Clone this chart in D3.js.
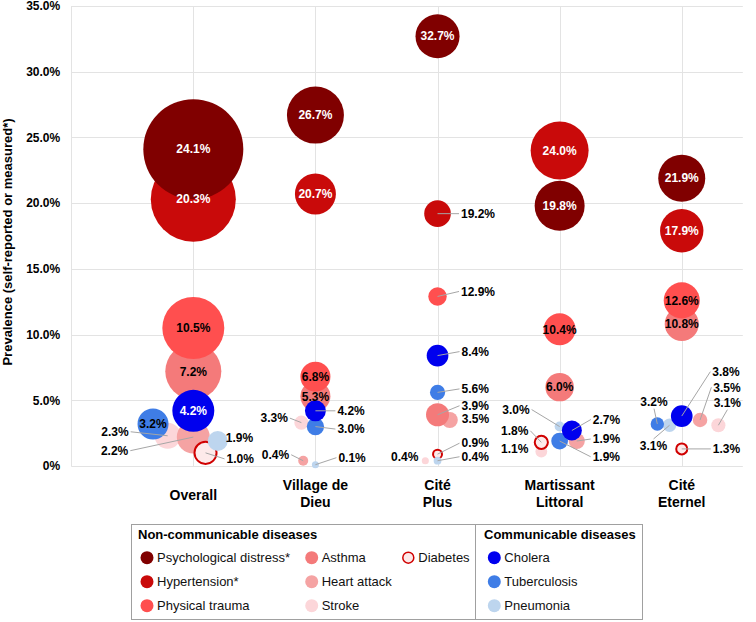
<!DOCTYPE html>
<html><head><meta charset="utf-8">
<script src="https://cdn.jsdelivr.net/npm/d3@7"></script>
<style>
body{margin:0;background:#fff}
text{font-family:"Liberation Sans",Arial,Helvetica,sans-serif}
</style>
</head><body>
<svg id="chart" width="756" height="622"></svg>
<script>
// ---------- DATA ----------
const categories = ["Overall", "Village de Dieu", "Cité Plus", "Martissant Littoral", "Cité Eternel"];
const yTicks = [0, 5, 10, 15, 20, 25, 30, 35];

// prevalence (%) per category
const psychological = [24.1, 26.7, 32.7, 19.8, 21.9];
const hypertension  = [20.3, 20.7, 19.2, 24.0, 17.9];
const trauma        = [10.5, 6.8, 12.9, 10.4, 12.6];
const asthma        = [7.2, 5.3, 3.9, 6.0, 10.8];
const heartAttack   = [2.2, 0.4, 3.5, 1.9, 3.5];
const stroke        = [2.3, 3.3, 0.4, 1.1, 3.1];
const diabetes      = [1.0, null, 0.9, 1.8, 1.3];
const cholera       = [4.2, 4.2, 8.4, 2.7, 3.8];
const tuberculosis  = [3.2, 3.0, 5.6, 1.9, 3.2];
const pneumonia     = [1.9, 0.1, 0.4, 3.0, 3.1];

// x values of bubbles (category index, with small offsets as in the source)
const xCentre       = [1, 2, 3, 4, 5];
const xHeart        = [1, 1.9, 3.1, 4.14, 5.15];
const xStroke       = [0.79, 1.885, 2.9, 3.85, 5.3];
const xDiabetes     = [1.1, 2, 3, 3.85, 5];
const xCholera      = [1, 2, 3, 4.1, 5];
const xTuberculosis = [0.67, 2, 3, 4, 4.8];
const xPneumonia    = [1.2, 2, 3, 4, 4.9];

// bubble sizes (relative)
const sizePsych     = [100, 32.5, 19.4, 25, 22.1];
const sizeHyper     = [72.3, 16.8, 7.1, 33.6, 18.8];
const sizeTrauma    = [38.4, 9, 3.4, 10.2, 13];
const sizeAsthma    = [31.4, 9, 5.3, 8.1, 11.6];
const sizeHeart     = [10.9, 1, 2.6, 2.6, 2.1];
const sizeStroke    = [6.8, 2, 0.5, 1.4, 2];
const sizeDiabetes  = [5.8, 0, 1.2, 2.3, 1.7];
const sizeCholera   = [17.6, 4.4, 4.7, 4, 4.7];
const sizeTb        = [9.6, 3, 2.3, 2.8, 1.8];
const sizePneumonia = [4, 0.5, 0.6, 1, 1.8];

// ---------- SERIES TABLE ----------
const series = [
  {key:"stroke", name:"Stroke", v:stroke, x:xStroke, s:sizeStroke, fill:"#fcd6d9", txt:"#000"},
  {key:"heart", name:"Heart attack", v:heartAttack, x:xHeart, s:sizeHeart, fill:"#f5a3a3", txt:"#000"},
  {key:"asthma", name:"Asthma", v:asthma, x:xCentre, s:sizeAsthma, fill:"#f47a7a", txt:"#000"},
  {key:"trauma", name:"Physical trauma", v:trauma, x:xCentre, s:sizeTrauma, fill:"#ff4f4f", txt:"#000"},
  {key:"hyp", name:"Hypertension*", v:hypertension, x:xCentre, s:sizeHyper, fill:"#c90a0a", txt:"#fff"},
  {key:"psych", name:"Psychological distress*", v:psychological, x:xCentre, s:sizePsych, fill:"#800000", txt:"#fff"},
  {key:"diabetes", name:"Diabetes", v:diabetes, x:xDiabetes, s:sizeDiabetes, fill:"#fdeaea", stroke:"#d00000", txt:"#000"},
  {key:"pneu", name:"Pneumonia", v:pneumonia, x:xPneumonia, s:sizePneumonia, fill:"#bdd5ee", txt:"#000"},
  {key:"tb", name:"Tuberculosis", v:tuberculosis, x:xTuberculosis, s:sizeTb, fill:"#3f7de6", txt:"#000"},
  {key:"cholera", name:"Cholera", v:cholera, x:xCholera, s:sizeCholera, fill:"#0000ee", txt:"#fff"}
];

// ---------- LABEL LAYOUT (pixel offsets from bubble centre; absent = inside) ----------
const labelLayout = {
  "stroke:0":[-39,-4,"end"], "heart:0":[-65,13.6,"end"], "pneu:0":[8,-3,"start",true], "diabetes:0":[21,6,"start"],
  "cholera:1":[22,0,"start"], "tb:1":[22,2.5,"start"], "stroke:1":[-13.5,-4.5,"end"], "heart:1":[-14,-6,"end"], "pneu:1":[23,-7,"start"],
  "hyp:2":[23.5,0,"start"], "trauma:2":[23.5,-5,"start"], "cholera:2":[24,-4,"start"], "tb:2":[24,-3.5,"start"],
  "asthma:2":[24,-9,"start"], "heart:2":[12,-1,"start",true], "diabetes:2":[24,-11,"start"], "pneu:2":[24,-4,"start"], "stroke:2":[-7,-4,"end",true],
  "pneu:3":[-30,-17,"end"], "cholera:3":[21,-11,"start"], "heart:3":[16,-2,"start"], "tb:3":[33,15.7,"start"],
  "diabetes:3":[-13,-11.6,"end"], "stroke:3":[-13,-3,"end",true],
  "cholera:4":[30.6,-44.4,"start"], "heart:4":[13.3,-32.7,"start"], "stroke:4":[9,-22.6,"middle"],
  "tb:4":[-3.3,-22.3,"middle"], "pneu:4":[-16,20.7,"middle"], "diabetes:4":[31,0,"start"]
};

// ---------- SCALES ----------
const svg = d3.select("#chart");
const x = d3.scaleLinear().domain([0, 5.5]).range([71.2, 742.8]);
const y = d3.scaleLinear().domain([0, 35]).range([466, 6]);
const r = d3.scaleSqrt().domain([0, 100]).range([0, 50]);
const fmt = d => d === 0 ? "0%" : d.toFixed(1) + "%";

// grid
const grid = svg.append("g").attr("stroke", "#e3e3e3").attr("stroke-width", 1);
grid.selectAll("line.h").data(yTicks).join("line")
  .attr("x1", x(0)).attr("x2", x(5.5))
  .attr("y1", d => Math.round(y(d)) + 0.5).attr("y2", d => Math.round(y(d)) + 0.5);
grid.selectAll("line.v").data([0, 1, 2, 3, 4, 5]).join("line")
  .attr("y1", y(0)).attr("y2", y(35))
  .attr("x1", d => Math.round(x(d)) + 0.5).attr("x2", d => Math.round(x(d)) + 0.5);

// y axis labels
const yAxis = svg.append("g").attr("transform", `translate(${x(0)},0)`)
  .call(d3.axisLeft(y).tickValues(yTicks).tickFormat(fmt).tickSize(0).tickPadding(11));
yAxis.select(".domain").remove();
yAxis.selectAll("text").attr("font-size", 12).attr("font-weight", "bold").attr("fill", "#000")
  .attr("font-family", "'Liberation Sans',Arial,sans-serif");

svg.append("text").attr("transform", "translate(12,242) rotate(-90)")
  .attr("text-anchor", "middle").attr("font-size", 13).attr("font-weight", "bold")
  .text("Prevalence (self-reported or measured*)");

// category labels
categories.forEach((c, i) => {
  const k = c.lastIndexOf(" ");
  const lines = c.indexOf(" ") < 0 ? [c] : [c.slice(0, k), c.slice(k + 1)];
  const t = svg.append("text").attr("x", x(i + 1)).attr("text-anchor", "middle")
    .attr("font-size", 14).attr("font-weight", "bold");
  const y0 = lines.length === 1 ? 495 : 485.5;
  lines.forEach((ln, j) => t.append("tspan").attr("x", x(i + 1)).attr("y", y0 + j * 17).attr("dy", "0.35em").text(ln));
});

// bubbles (bottom layer), then leader lines and labels on top
const bubbleLayer = svg.append("g");
const leaderLayer = svg.append("g");
const labelLayer = svg.append("g");
series.forEach(se => {
  se.v.forEach((v, i) => {
    if (v == null) return;
    const cx = x(se.x[i]), cy = y(v), rad = r(se.s[i]);
    bubbleLayer.append("circle").attr("cx", cx).attr("cy", cy)
      .attr("r", se.stroke ? Math.max(rad - 1, 1) : rad)
      .attr("fill", se.fill)
      .attr("stroke", se.stroke || "none").attr("stroke-width", se.stroke ? 2 : 0);
    const lay = labelLayout[se.key + ":" + i];
    if (!lay) {
      labelLayer.append("text").attr("x", cx).attr("y", cy).attr("dy", "0.35em")
        .attr("text-anchor", "middle").attr("font-size", 12).attr("font-weight", "bold")
        .attr("fill", se.txt).text(v.toFixed(1) + "%");
    } else {
      const [dx, dy, anchor, noLead] = lay;
      const lx = cx + dx, ly = cy + dy;
      if (!noLead) {
        let ex = lx, ey = ly;
        if (anchor === "start") ex = lx - 2;
        else if (anchor === "end") ex = lx + 2;
        else ey = ly + (dy < 0 ? 7 : -7);
        leaderLayer.append("line").attr("x1", cx).attr("y1", cy).attr("x2", ex).attr("y2", ey)
          .attr("stroke", "#a6a6a6").attr("stroke-width", 1);
      }
      labelLayer.append("text").attr("x", lx).attr("y", ly).attr("dy", "0.35em")
        .attr("text-anchor", anchor).attr("font-size", 12).attr("font-weight", "bold")
        .attr("fill", "#000").text(v.toFixed(1) + "%");
    }
  });
});

// ---------- LEGEND ----------
const legendLayout = {
  box:[131, 524, 642, 619], divider:475,
  titles:[["Non-communicable diseases", 138, 534], ["Communicable diseases", 484, 534]],
  cols:{ "psych":[147,0], "hyp":[147,1], "trauma":[147,2], "asthma":[311.7,0], "heart":[311.7,1], "stroke":[311.7,2],
         "diabetes":[408.3,0], "cholera":[494.3,0], "tb":[494.3,1], "pneu":[494.3,2] },
  rows:[557.7, 581.7, 605.7]
};
const L = svg.append("g");
const [bx0, by0, bx1, by1] = legendLayout.box;
L.append("rect").attr("x", bx0 + 0.5).attr("y", by0 + 0.5).attr("width", bx1 - bx0).attr("height", by1 - by0)
  .attr("fill", "none").attr("stroke", "#a0a0a0");
L.append("line").attr("x1", legendLayout.divider + 0.5).attr("x2", legendLayout.divider + 0.5)
  .attr("y1", by0).attr("y2", by1 + 0.5).attr("stroke", "#a0a0a0");
legendLayout.titles.forEach(([t, tx, ty]) => L.append("text").attr("x", tx).attr("y", ty).attr("dy", "0.35em")
  .attr("font-size", 13).attr("font-weight", "bold").text(t));
series.forEach(se => {
  const [mx, row] = legendLayout.cols[se.key];
  const my = legendLayout.rows[row];
  L.append("circle").attr("cx", mx).attr("cy", my).attr("r", se.stroke ? 5.5 : 6.5)
    .attr("fill", se.fill).attr("stroke", se.stroke || "none").attr("stroke-width", se.stroke ? 1.5 : 0);
  L.append("text").attr("x", mx + 10).attr("y", my).attr("dy", "0.35em").attr("font-size", 13)
    .attr("fill", "#111").text(se.name);
});
</script>
</body></html>
